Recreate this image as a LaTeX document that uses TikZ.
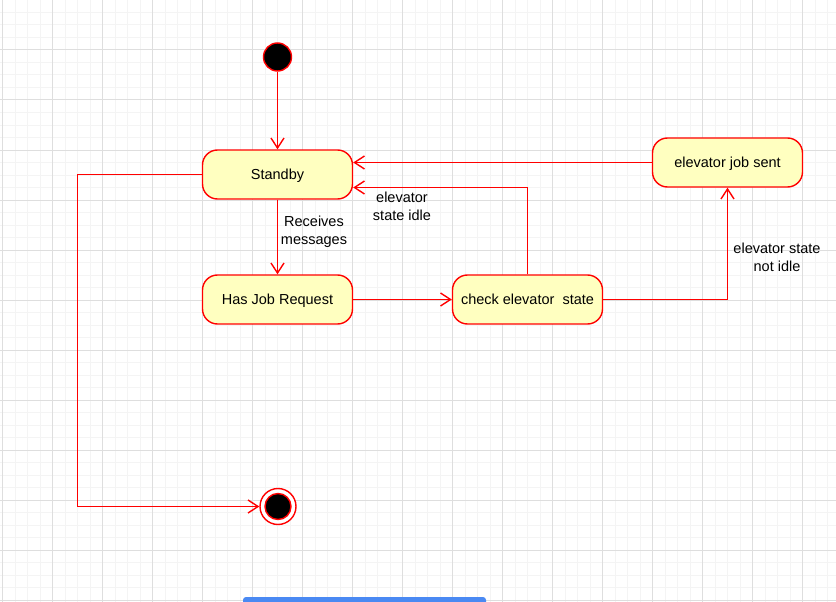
\documentclass[tikz,border=0pt]{standalone}
\usepackage{fontspec}
\setmainfont{Liberation Sans}
\usetikzlibrary{arrows.meta}
\definecolor{stroke}{HTML}{FF0000}
\definecolor{statefill}{HTML}{FFFFC0}
\definecolor{gridmajor}{HTML}{DEDEDE}
\definecolor{gridminor}{HTML}{F4F4F4}
\definecolor{barblue}{HTML}{4A89F3}
\tikzset{
  statebox/.style={draw=stroke, fill=statefill, line width=1.4pt, rounded corners=15pt,
    minimum width=150pt, minimum height=49pt, inner sep=0pt, text height=10.5pt, text depth=0pt,
    font=\fontsize{14.5}{18}\selectfont},
  flow/.style={draw=stroke, line width=1.4pt, -{Straight Barb[length=10pt,width=13pt,line width=1.4pt]}},
  lbl/.style={align=center, font=\fontsize{14.5}{18}\selectfont, inner sep=0pt},
}
\begin{document}
\begin{tikzpicture}[x=1pt,y=-1pt]
\useasboundingbox (0,0) rectangle (836,602);
\clip (0,0) rectangle (836,602);
\fill[white] (0,0) rectangle (836,602);
% grid
\foreach \i in {0,...,67} {\draw[gridminor, line width=1pt] ({2.5+12.5*\i},0) -- ({2.5+12.5*\i},602);}
\foreach \i in {0,...,48} {\draw[gridminor, line width=1pt] (0,{12.5*\i}) -- (836,{12.5*\i});}
\foreach \i in {0,...,16} {\draw[gridmajor, line width=1pt] ({2.5+50*\i},0) -- ({2.5+50*\i},602);}
\foreach \i in {0,...,12} {\draw[gridmajor, line width=1pt] (0,{50*\i}) -- (836,{50*\i});}
% bottom bar
\fill[barblue, rounded corners=3pt] (243,597) rectangle (486,612);
% states
\node[circle, fill=black, draw=stroke, line width=1.4pt, minimum size=28pt, inner sep=0pt] (init) at (277.5,57) {};
\node[statebox] (standby) at (277.5,174.5) {Standby};
\node[statebox] (hasjob) at (277.5,299.5) {Has Job Request};
\node[statebox] (check) at (527.5,299.5) {check elevator\ \ state};
\node[statebox] (sent) at (727.5,162.5) {elevator job sent};
\node[circle, draw=stroke, line width=1.4pt, fill=white, minimum size=36pt, inner sep=0pt] (final) at (278,506.5) {};
\node[circle, fill=black, draw=stroke, line width=1.4pt, minimum size=26pt, inner sep=0pt] (finalin) at (final.center) {};
% connectors
\draw[flow] (init) -- (standby);
\node[lbl] (lrecv) at (314,232) {Receives\\messages};
\draw[flow] (standby) -- (hasjob);
\draw[flow] (hasjob) -- (check);
\coordinate (c1) at (527.5,187.5);
\draw[flow] (check.north) -- (c1) -- (c1 -| standby.east);
\node[lbl] (lidle) at (402,206) {elevator\\state idle};
\coordinate (c2) at (727.5,299.5);
\draw[flow] (check.east) -- (c2) -- (sent.south);
\node[lbl] (lnotidle) at (777,257) {elevator state\\not idle};
\draw[flow] (sent.west) -- (sent.west -| standby.east);
\coordinate (c3) at (77.5,174.5);
\coordinate (c4) at (77.5,506.5);
\draw[flow] (standby.west) -- (c3) -- (c4) -- (final.west);
\end{tikzpicture}
\end{document}
